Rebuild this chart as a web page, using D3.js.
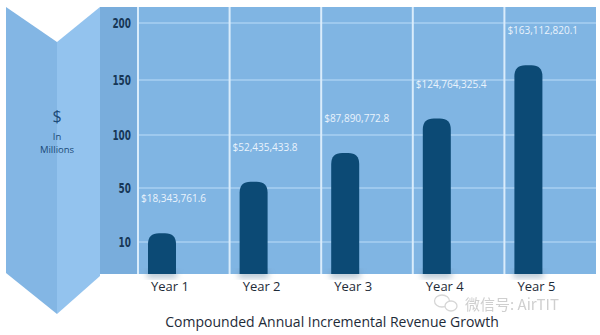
<!DOCTYPE html>
<html><head><meta charset="utf-8">
<script src="https://cdn.jsdelivr.net/npm/d3@7"></script>
<style>html,body{margin:0;padding:0;background:#fff;}svg{display:block;}</style>
</head><body><svg id="c" width="600" height="335"></svg>
<script>
const categories = ["Year 1", "Year 2", "Year 3", "Year 4", "Year 5"];
const barValues = [16.5, 56, 83, 115, 163];          // bar heights read against the axis
const valueLabels = ["$18,343,761.6", "$52,435,433.8", "$87,890,772.8", "$124,764,325.4", "$163,112,820.1"];
const tickValues = [10, 50, 100, 150, 200];
const tickLabels = ["10", "50", "100", "150", "200"];
const axisTitle = ["$", "In", "Millions"];
const chartTitle = "Compounded Annual Incremental Revenue Growth";
const watermark = "微信号: AirTIT";

const svg = d3.select("#c");
const plotTop = 7, plotBottom = 274, plotLeft = 138, plotRight = 596, colLeft = 100;

// y: tick marks are evenly spaced in the infographic
const y = d3.scaleLinear().domain([10, 50, 100, 150, 200]).range([242, 188, 135, 80, 23]);
const x = d3.scaleBand().domain(categories).range([plotLeft, plotRight]).paddingInner(0);

const defs = svg.append("defs");
const blur = defs.append("filter").attr("id", "sh").attr("x", "-50%").attr("y", "-20%").attr("width", "200%").attr("height", "140%");
blur.append("feGaussianBlur").attr("stdDeviation", 3);

// folded ribbon on the left
svg.append("path").attr("d", `M6,7 L57,42 L57,314 L6,273 Z`).attr("fill", "#83b6e4");
svg.append("path").attr("d", `M57,42 L100,7 L100,276 L57,314 Z`).attr("fill", "#93c3ee");

// tick column and plot area
svg.append("rect").attr("x", colLeft).attr("y", plotTop).attr("width", plotLeft - colLeft).attr("height", plotBottom - plotTop).attr("fill", "#79addc");
svg.append("rect").attr("x", plotLeft).attr("y", plotTop).attr("width", plotRight - plotLeft).attr("height", plotBottom - plotTop).attr("fill", "#80b5e3");

// horizontal grid lines
svg.append("g").selectAll("line").data(tickValues).join("line")
  .attr("x1", plotLeft).attr("x2", plotRight)
  .attr("y1", d => y(d)).attr("y2", d => y(d))
  .attr("stroke", "#a9d0f2").attr("stroke-width", 1.6);

// vertical column dividers
svg.append("g").selectAll("line").data(categories).join("line")
  .attr("x1", d => x(d)).attr("x2", d => x(d))
  .attr("y1", plotTop).attr("y2", plotBottom)
  .attr("stroke", "#d9ecfb").attr("stroke-width", 2);

// y tick labels (condensed)
svg.append("g").selectAll("text").data(tickValues).join("text")
  .attr("x", 131).attr("y", d => y(d)).attr("dy", "0.36em")
  .attr("text-anchor", "end")
  .attr("font-family", "'DejaVu Sans Condensed', 'DejaVu Sans', sans-serif")
  .attr("font-weight", "bold").attr("font-size", 14)
  .attr("fill", "#173756")
  .attr("textLength", (d, i) => tickLabels[i].length * 6.2)
  .attr("lengthAdjust", "spacingAndGlyphs")
  .text((d, i) => tickLabels[i]);

// axis title on ribbon
const at = svg.append("g").attr("font-family", "'Open Sans', sans-serif").attr("fill", "#1b4a78").attr("text-anchor", "middle");
at.append("text").attr("x", 57).attr("y", 122).attr("font-size", 16).text(axisTitle[0]);
at.append("text").attr("x", 57).attr("y", 140).attr("font-size", 9.5).text(axisTitle[1]);
at.append("text").attr("x", 57).attr("y", 153).attr("font-size", 9.5).text(axisTitle[2]);

const barW = 28, barOff = 10, r = 11;
function barPath(d) {
  const x0 = x(d.c) + barOff, x1 = x0 + barW, yt = y(d.v), yb = plotBottom;
  return `M${x0},${yb} L${x0},${yt + r} Q${x0},${yt} ${x0 + r},${yt} L${x1 - r},${yt} Q${x1},${yt} ${x1},${yt + r} L${x1},${yb} Z`;
}
const bars = categories.map((c, i) => ({c, v: barValues[i], label: valueLabels[i]}));

// soft shadow under bar bottoms
svg.append("g").selectAll("rect").data(bars).join("rect")
  .attr("x", d => x(d.c) + barOff - 1).attr("y", plotBottom - 4)
  .attr("width", barW + 2).attr("height", 8)
  .attr("fill", "#6f8fa8").attr("opacity", 0.5).attr("filter", "url(#sh)");

svg.append("g").selectAll("path").data(bars).join("path")
  .attr("d", barPath).attr("fill", "#0c4a75");

// value labels
svg.append("g").selectAll("text").data(bars).join("text")
  .attr("x", d => x(d.c) + 3).attr("y", d => y(d.v) - 31)
  .attr("font-family", "'Open Sans', sans-serif").attr("font-size", 10)
  .attr("fill", "#eaf3fc")
  .text(d => d.label);

// x category labels
svg.append("g").selectAll("text").data(categories).join("text")
  .attr("x", d => x(d) + 32).attr("y", 291)
  .attr("text-anchor", "middle")
  .attr("font-family", "'Open Sans', sans-serif").attr("font-size", 13)
  .attr("fill", "#1e2b38")
  .text(d => d);

// chart title
svg.append("text").attr("x", 332).attr("y", 327).attr("text-anchor", "middle")
  .attr("font-family", "'Open Sans', sans-serif").attr("font-size", 14)
  .attr("fill", "#1e2b38").text(chartTitle);

// watermark
const wm = svg.append("g").attr("opacity", 0.55);
wm.append("ellipse").attr("cx", 442).attr("cy", 301).attr("rx", 7.5).attr("ry", 6).attr("fill", "none").attr("stroke", "#b5b5b5").attr("stroke-width", 1.3);
wm.append("ellipse").attr("cx", 451).attr("cy", 306).attr("rx", 6).attr("ry", 5).attr("fill", "#fff").attr("stroke", "#b5b5b5").attr("stroke-width", 1.3);
wm.append("text").attr("x", 465).attr("y", 310)
  .attr("font-family", "'Noto Sans CJK SC', sans-serif").attr("font-size", 15)
  .attr("fill", "#a8a8a8").text(watermark);
</script></body></html>
